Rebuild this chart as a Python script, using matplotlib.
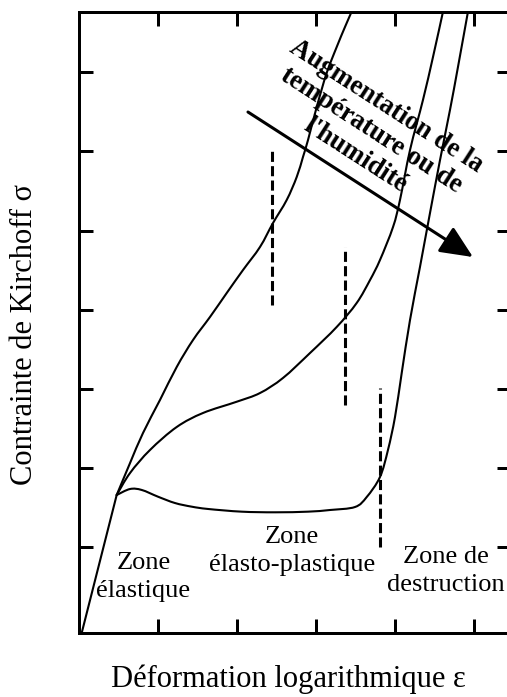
import numpy as np
import matplotlib
matplotlib.use("Agg")
import matplotlib.pyplot as plt
from matplotlib.patches import FancyArrowPatch, PathPatch
from matplotlib.path import Path

plt.rcParams['font.family'] = ['Liberation Serif', 'DejaVu Serif']

# ---- data (arbitrary units) ----
elastic_x = [0.034, 0.477]
elastic_y = [0.0, 1.742]

curve_low_x = [0.477, 0.646, 0.794, 1.0, 1.215, 1.427, 1.633, 2.059, 2.481, 2.899, 3.177,
               3.494, 3.642, 3.810, 3.911, 4.0, 4.085, 4.190, 4.316, 4.443, 4.570, 4.696, 4.797, 4.924]
curve_low_y = [1.742, 1.818, 1.806, 1.721, 1.641, 1.595, 1.566, 1.532, 1.524, 1.532, 1.553,
               1.591, 1.717, 1.970, 2.311, 2.727, 3.283, 3.952, 4.621, 5.303, 5.972, 6.604, 7.146, 7.847]

curve_mid_x = [0.477, 0.646, 0.899, 1.237, 1.570, 1.996, 2.291, 2.582, 2.924, 3.262, 3.515,
               3.684, 3.810, 3.975, 4.063, 4.190, 4.354, 4.481, 4.608]
curve_mid_y = [1.742, 2.020, 2.311, 2.601, 2.778, 2.920, 3.030, 3.220, 3.535, 3.864, 4.167,
               4.457, 4.710, 5.126, 5.467, 6.098, 6.730, 7.273, 7.847]

curve_high_x = [0.477, 0.646, 0.810, 1.025, 1.237, 1.443, 1.658, 1.870, 2.076, 2.291, 2.456,
                2.629, 2.756, 2.835, 2.899, 3.009, 3.135, 3.262, 3.367, 3.452]
curve_high_y = [1.742, 2.146, 2.525, 2.942, 3.359, 3.699, 3.990, 4.293, 4.583, 4.874, 5.177,
                5.467, 5.758, 6.010, 6.225, 6.641, 7.071, 7.399, 7.652, 7.847]

dash_x = [2.443, 3.367, 3.810]
dash_y0 = [4.141, 2.879, 1.086]
dash_y1 = [6.124, 4.874, 3.093]

arrow_start = (2.139, 6.578)
arrow_end = (4.987, 4.747)

xticks = [1, 2, 3, 4, 5]
yticks = [1.08, 2.08, 3.08, 4.08, 5.08, 6.08, 7.08]

zone_labels = ["Zone\nélastique", "Zone\nélasto-plastique", "Zone de\ndestruction"]
zone_x = [0.816, 2.696, 4.639]
zone_y = [0.707, 1.035, 0.783]

arrow_text = "Augmentation de la\ntempérature ou de\nl'humidité"
xlabel = "Déformation logarithmique ε"
ylabel = "Contrainte de Kirchoff σ"


def smooth_path(xs, ys):
    """Cubic Bezier path (Catmull-Rom style) passing through the read points."""
    p = np.column_stack([xs, ys]).astype(float)
    n = len(p)
    verts = [p[0]]
    codes = [Path.MOVETO]
    for i in range(n - 1):
        p0 = p[i - 1] if i > 0 else p[i]
        p1, p2 = p[i], p[i + 1]
        p3 = p[i + 2] if i + 2 < n else p[i + 1]
        c1 = p1 + (p2 - p0) / 6.0
        c2 = p2 - (p3 - p1) / 6.0
        verts += [c1, c2, p2]
        codes += [Path.CURVE4] * 3
    return Path(verts, codes)


# ---- figure ----
W, H = 507, 697
fig = plt.figure(figsize=(W / 100, H / 100), dpi=100)
ax = fig.add_axes([79 / W, 64 / H, 432 / W, 621.5 / H])
ax.set_xlim(0, 432 / 79)
ax.set_ylim(0, 621.5 / 79.2)

lw_curve = 1.5
ax.plot(elastic_x, elastic_y, color='black', lw=lw_curve, solid_capstyle='round')
for xs, ys in [(curve_low_x, curve_low_y), (curve_mid_x, curve_mid_y), (curve_high_x, curve_high_y)]:
    ax.add_patch(PathPatch(smooth_path(xs, ys), facecolor='none', edgecolor='black',
                           lw=lw_curve, capstyle='round', clip_on=True))

for x, y0, y1 in zip(dash_x, dash_y0, dash_y1):
    ax.plot([x, x], [y0, y1], color='black', lw=2.2, linestyle=(0, (3.3, 1.4)))

arr = FancyArrowPatch(arrow_start, arrow_end, arrowstyle='-|>,head_length=1.0,head_width=0.45',
                      mutation_scale=20, lw=2.2, color='black', shrinkA=0, shrinkB=0)
ax.add_patch(arr)

ax.text(3.696, 6.338, arrow_text, rotation=-32.8, rotation_mode='anchor', ha='center', va='center',
        multialignment='center', fontsize=19.3, fontweight='bold')

for lab, x, y in zip(zone_labels, zone_x, zone_y):
    ax.text(x, y, lab, ha='center', va='center', multialignment='center', fontsize=19, linespacing=1.35)

ax.set_xticks(xticks)
ax.set_yticks(yticks)
ax.tick_params(direction='in', length=9.9, width=2.16, top=True, right=True,
               labelbottom=False, labelleft=False)
for s in ax.spines.values():
    s.set_linewidth(2.16)

fig.text(288 / W, 1 - 679 / H, xlabel, ha='center', va='center', fontsize=22)
fig.text(25 / W, 1 - 334 / H, ylabel, ha='center', va='center', rotation=90, fontsize=22)

fig.savefig("out.png", dpi=100)
